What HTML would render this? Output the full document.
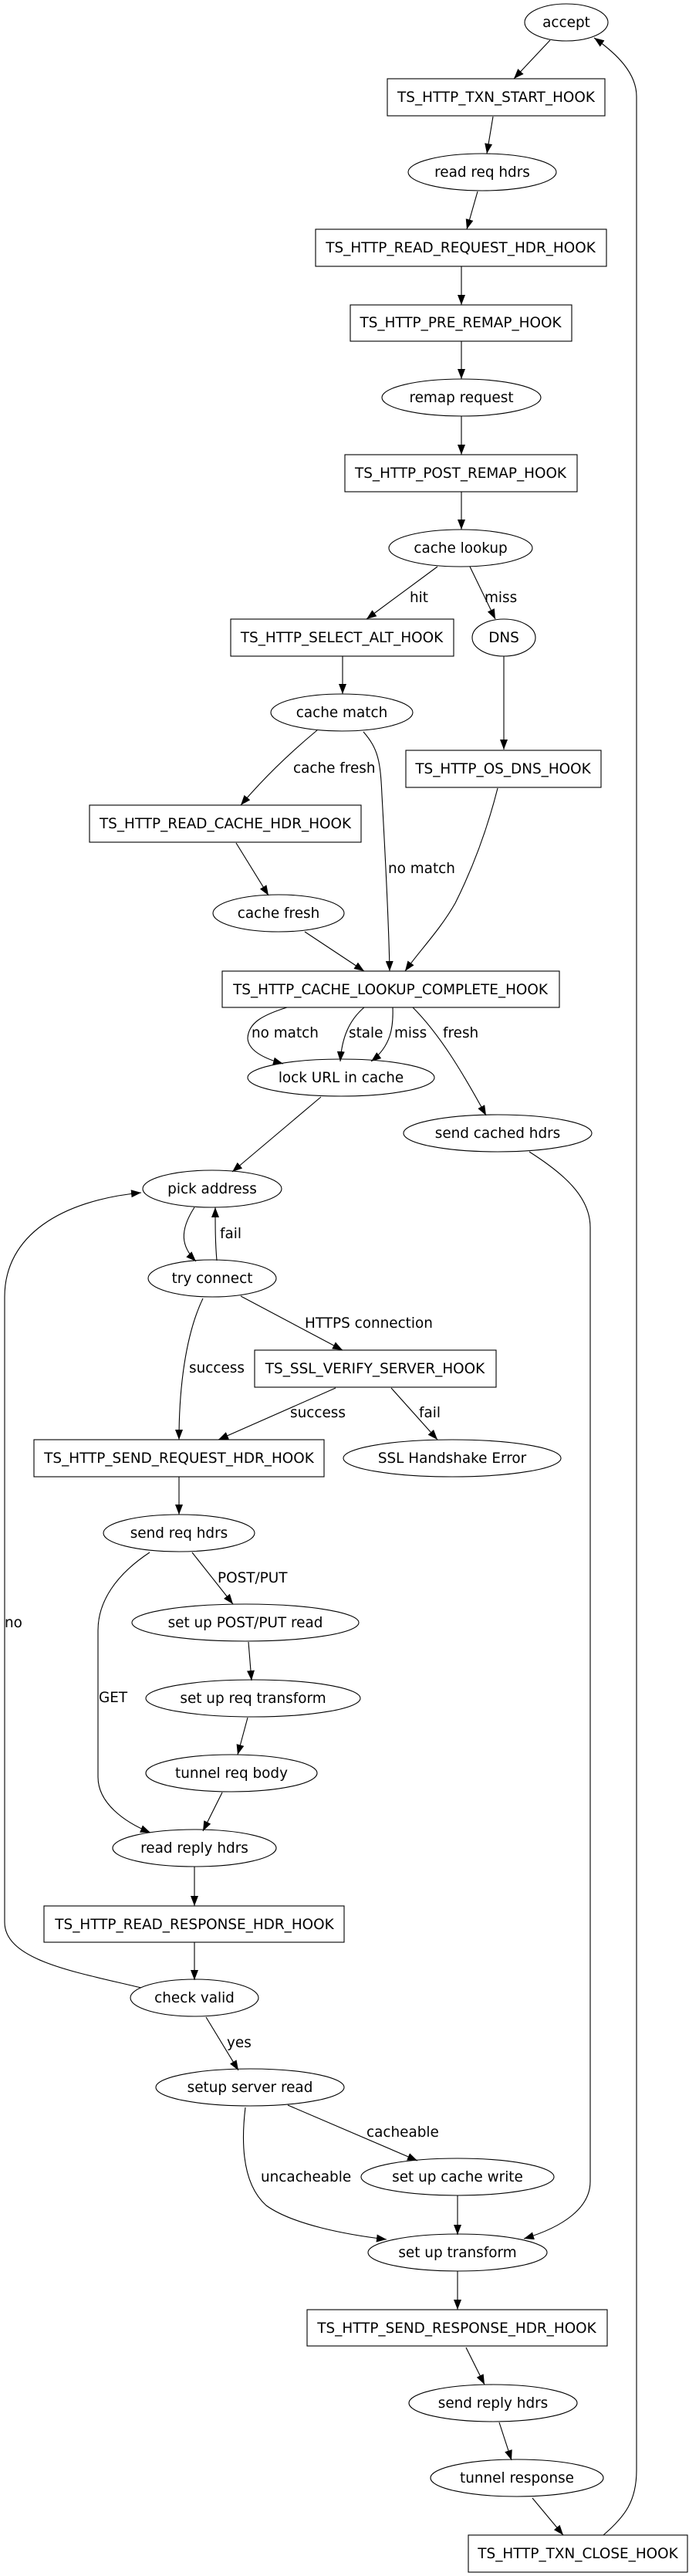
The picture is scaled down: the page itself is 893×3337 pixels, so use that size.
<!DOCTYPE html>
<html><head><meta charset="utf-8"><style>
html,body{margin:0;padding:0;background:#fff}
svg{display:block}
text{font-family:"DejaVu Sans","Liberation Sans",sans-serif;font-size:18.4px;fill:#000}
.n{text-anchor:middle}
</style></head><body>
<svg width="893" height="3337" viewBox="0 0 893 3337" xmlns="http://www.w3.org/2000/svg">
<defs>
<marker id="a" markerUnits="userSpaceOnUse" markerWidth="14" markerHeight="10" refX="13" refY="5" orient="auto">
<path d="M0,0 L13,5 L0,10 Z" fill="#000"/>
</marker>
</defs>
<g fill="none" stroke="#000" stroke-width="1.1">
<!-- nodes -->
<ellipse cx="734" cy="29" rx="54" ry="24"/>
<rect x="502" y="102" width="282" height="48"/>
<ellipse cx="625" cy="223" rx="96" ry="24"/>
<rect x="409" y="297" width="377" height="48"/>
<rect x="454" y="395" width="287" height="47"/>
<ellipse cx="598" cy="515" rx="103" ry="24"/>
<rect x="447" y="589" width="301" height="48"/>
<ellipse cx="597" cy="710" rx="93" ry="24"/>
<rect x="299" y="802" width="289" height="48"/>
<ellipse cx="653" cy="826" rx="41" ry="24"/>
<ellipse cx="443" cy="923" rx="92" ry="24"/>
<rect x="526" y="972" width="253" height="48"/>
<rect x="116" y="1043" width="352" height="48"/>
<ellipse cx="361" cy="1183" rx="85" ry="24"/>
<rect x="288" y="1258" width="437" height="47"/>
<ellipse cx="442" cy="1396" rx="121" ry="24"/>
<ellipse cx="645" cy="1468" rx="122" ry="24"/>
<ellipse cx="275" cy="1540" rx="90" ry="24"/>
<ellipse cx="275" cy="1656" rx="83" ry="24"/>
<rect x="330" y="1749" width="313" height="48"/>
<rect x="44" y="1865" width="376" height="48"/>
<ellipse cx="586" cy="1889" rx="141" ry="24"/>
<ellipse cx="232" cy="1986" rx="98" ry="24"/>
<ellipse cx="318" cy="2102" rx="147" ry="24"/>
<ellipse cx="328" cy="2200" rx="139" ry="24"/>
<ellipse cx="300" cy="2297" rx="111" ry="24"/>
<ellipse cx="252" cy="2394" rx="106" ry="24"/>
<rect x="57" y="2469" width="389" height="47"/>
<ellipse cx="252" cy="2588" rx="83" ry="24"/>
<ellipse cx="324" cy="2704" rx="122" ry="24"/>
<ellipse cx="593" cy="2820" rx="125" ry="24"/>
<ellipse cx="593" cy="2918" rx="116" ry="24"/>
<rect x="398" y="2992" width="389" height="47"/>
<ellipse cx="639" cy="3113" rx="109" ry="24"/>
<ellipse cx="670" cy="3210" rx="112" ry="24"/>
<rect x="607" y="3284" width="284" height="48"/>
<!-- edges -->
<g marker-end="url(#a)">
<path d="M713,52 L666,102"/>
<path d="M639,151 L631,199"/>
<path d="M619,248 L605,297"/>
<path d="M598,345 L598,395"/>
<path d="M598,442 L598,491"/>
<path d="M598,539 L598,589"/>
<path d="M598,637 L598,686"/>
<path d="M567,734 L475,802"/>
<path d="M609,734 L642,802"/>
<path d="M444,850 L444,899"/>
<path d="M653,850 L653,971"/>
<path d="M411,946 C370,980 340,1010 312,1043"/>
<path d="M471,948 C490,970 493,985 495,1030 C500,1120 504,1200 505,1258"/>
<path d="M306,1092 L348,1160"/>
<path d="M395,1207 L472,1258"/>
<path d="M645,1021 C630,1080 610,1130 590,1170 C570,1205 545,1230 525,1258"/>
<path d="M372,1305 C340,1315 322,1325 321,1345 C322,1362 345,1372 367,1378"/>
<path d="M472,1305 C452,1322 443,1345 441,1375"/>
<path d="M509,1305 C510,1330 507,1355 481,1375"/>
<path d="M535,1305 C570,1340 600,1390 630,1445"/>
<path d="M416,1421 L301,1518"/>
<path d="M252,1564 C232,1595 235,1615 254,1634"/>
<path d="M281,1633 C279,1610 279,1590 279,1564"/>
<path d="M263,1682 C240,1730 232,1800 232,1865"/>
<path d="M312,1679 L444,1749"/>
<path d="M435,1798 L283,1865"/>
<path d="M507,1798 L567,1865"/>
<path d="M232,1913 L232,1962"/>
<path d="M249,2011 L302,2078"/>
<path d="M322,2127 L326,2177"/>
<path d="M321,2225 L308,2273"/>
<path d="M288,2322 L263,2372"/>
<path d="M194,2011 C150,2040 127,2075 127,2112 L127,2302 C127,2335 160,2360 195,2374"/>
<path d="M252,2418 L252,2469"/>
<path d="M252,2516 L252,2565"/>
<path d="M267,2613 L309,2682"/>
<path d="M373,2727 L541,2799"/>
<path d="M318,2730 C312,2780 315,2830 345,2857 C380,2882 450,2895 501,2901"/>
<path d="M593,2844 L593,2895"/>
<path d="M593,2942 L593,2992"/>
<path d="M604,3041 L628,3089"/>
<path d="M647,3138 L663,3187"/>
<path d="M690,3236 L730,3284"/>
<path d="M686,1492 C730,1520 765,1550 765,1590 L765,2826 C765,2860 730,2885 679,2900"/>
<path d="M183,2575 C100,2555 6,2540 6,2490 L6,1680 C6,1600 80,1555 183,1545"/>
<path d="M782,3284 C810,3260 825,3240 825,3200 L825,125 C825,95 800,70 770,49"/>
</g>
</g>
<!-- node labels -->
<text class="n" x="734" y="35">accept</text>
<text class="n" x="643" y="132">TS_HTTP_TXN_START_HOOK</text>
<text class="n" x="625" y="229">read req hdrs</text>
<text class="n" x="597" y="327">TS_HTTP_READ_REQUEST_HDR_HOOK</text>
<text class="n" x="597" y="424">TS_HTTP_PRE_REMAP_HOOK</text>
<text class="n" x="598" y="521">remap request</text>
<text class="n" x="597" y="619">TS_HTTP_POST_REMAP_HOOK</text>
<text class="n" x="597" y="716">cache lookup</text>
<text class="n" x="443" y="832">TS_HTTP_SELECT_ALT_HOOK</text>
<text class="n" x="653" y="832">DNS</text>
<text class="n" x="443" y="929">cache match</text>
<text class="n" x="652" y="1002">TS_HTTP_OS_DNS_HOOK</text>
<text class="n" x="292" y="1073">TS_HTTP_READ_CACHE_HDR_HOOK</text>
<text class="n" x="361" y="1189">cache fresh</text>
<text class="n" x="506" y="1288">TS_HTTP_CACHE_LOOKUP_COMPLETE_HOOK</text>
<text class="n" x="442" y="1402">lock URL in cache</text>
<text class="n" x="645" y="1474">send cached hdrs</text>
<text class="n" x="275" y="1546">pick address</text>
<text class="n" x="275" y="1662">try connect</text>
<text class="n" x="486" y="1779">TS_SSL_VERIFY_SERVER_HOOK</text>
<text class="n" x="232" y="1895">TS_HTTP_SEND_REQUEST_HDR_HOOK</text>
<text class="n" x="586" y="1895">SSL Handshake Error</text>
<text class="n" x="232" y="1992">send req hdrs</text>
<text class="n" x="318" y="2108">set up POST/PUT read</text>
<text class="n" x="328" y="2206">set up req transform</text>
<text class="n" x="300" y="2303">tunnel req body</text>
<text class="n" x="252" y="2400">read reply hdrs</text>
<text class="n" x="252" y="2499">TS_HTTP_READ_RESPONSE_HDR_HOOK</text>
<text class="n" x="252" y="2594">check valid</text>
<text class="n" x="324" y="2710">setup server read</text>
<text class="n" x="593" y="2826">set up cache write</text>
<text class="n" x="593" y="2924">set up transform</text>
<text class="n" x="592" y="3022">TS_HTTP_SEND_RESPONSE_HDR_HOOK</text>
<text class="n" x="639" y="3119">send reply hdrs</text>
<text class="n" x="670" y="3216">tunnel response</text>
<text class="n" x="749" y="3314">TS_HTTP_TXN_CLOSE_HOOK</text>
<!-- edge labels -->
<text x="531" y="780">hit</text>
<text x="628" y="780">miss</text>
<text x="380" y="1001">cache fresh</text>
<text x="503" y="1131">no match</text>
<text x="326" y="1344">no match</text>
<text x="452" y="1344">stale</text>
<text x="511" y="1344">miss</text>
<text x="574" y="1344">fresh</text>
<text x="285" y="1604">fail</text>
<text x="395" y="1720">HTTPS connection</text>
<text x="245" y="1778">success</text>
<text x="376" y="1836">success</text>
<text x="543" y="1836">fail</text>
<text x="282" y="2050">POST/PUT</text>
<text x="6" y="2108">no</text>
<text x="128" y="2205">GET</text>
<text x="294" y="2652">yes</text>
<text x="475" y="2768">cacheable</text>
<text x="338" y="2826">uncacheable</text>
</svg>
</body></html>
